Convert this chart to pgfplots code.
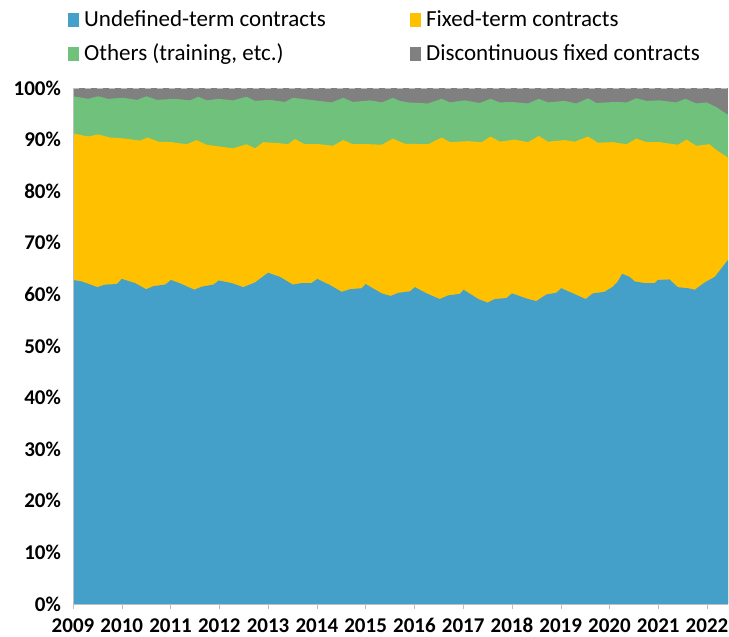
\documentclass[border=0pt]{standalone}
\usepackage{pgfplots}
\pgfplotsset{compat=1.18}
\usepackage{fontspec}
\setmainfont{Carlito}
\definecolor{cBlue}{HTML}{44A0C9}
\definecolor{cYellow}{HTML}{FFC000}
\definecolor{cGreen}{HTML}{70C17C}
\definecolor{cGrey}{HTML}{808080}
\definecolor{cAxis}{HTML}{BFBFBF}
\begin{document}
\begin{tikzpicture}
\useasboundingbox (-36.5pt,-16.5pt) rectangle (328pt,302pt);
\begin{axis}[
  at={(0,0)}, anchor=south west,
  scale only axis, width=327.5pt, height=258pt,
  xmin=2009, xmax=2022.43, ymin=0, ymax=100,
  axis x line*=bottom, axis y line*=left,
  axis line style={cAxis, -},
  xtick={2009,2010,...,2022},
  ytick={0,10,...,100},
  x tick label style={/pgf/number format/1000 sep={}, anchor=north, text height=7.6pt, text depth=0pt, yshift=-0.8pt},
  yticklabel={\pgfmathprintnumber{\tick}\%},
  y tick label style={xshift=0pt},
  /pgf/number format/assume math mode=true,
  tick label style={font=\fontsize{10.5}{12}\selectfont\bfseries},
  tick align=outside,
  major tick length=2.5pt,
  xtick style={cAxis},
  ytick style={draw=none},
  extra y ticks={100}, extra y tick labels={},
  extra y tick style={grid=major, major grid style={cAxis, dashed}},
  axis on top,
  legend columns=2,
  legend image code/.code={\fill[#1] (0pt,-3.5pt) rectangle (5.5pt,3.5pt);},
  legend style={draw=none, fill=none, at={(-0.008,1.15)}, anchor=north west,
    inner sep=0pt, font=\fontsize{11.5}{13}\selectfont, row sep=7pt,
    nodes={inner sep=0pt, anchor=west},
    /tikz/every odd column/.append style={column sep=2.5pt}},
  legend cell align=left,
]
\addlegendimage{fill=cBlue, draw=none}
\addlegendentry{\makebox[163pt][l]{Undefined-term contracts}}
\addlegendimage{fill=cYellow, draw=none}
\addlegendentry{Fixed-term contracts}
\addlegendimage{fill=cGreen, draw=none}
\addlegendentry{\makebox[163pt][l]{Others (training, etc.)}}
\addlegendimage{fill=cGrey, draw=none}
\addlegendentry{Discontinuous fixed contracts}

% Discontinuous fixed contracts (cumulative top = 100)
\addplot[fill=cGrey, draw=none, forget plot] coordinates {
(2009.00,100) (2022.43,100)} \closedcycle;

% Others (cumulative top)
\addplot[fill=cGreen, draw=none, forget plot] coordinates {
(2009.00,98.4) (2009.31,97.9) (2009.52,98.4) (2009.72,97.9) (2010.03,98.1)
(2010.31,97.7) (2010.51,98.4) (2010.72,97.7) (2011.09,97.9) (2011.40,97.6)
(2011.57,98.3) (2011.74,97.6) (2011.98,97.9) (2012.28,97.6) (2012.56,98.3)
(2012.73,97.5) (2013.04,97.7) (2013.34,97.3) (2013.51,98.1) (2013.86,97.7)
(2014.30,97.2) (2014.54,98.1) (2014.74,97.3) (2015.09,97.6) (2015.33,97.2)
(2015.56,98.1) (2015.70,97.5) (2015.87,97.2) (2016.28,97.0) (2016.56,97.9)
(2016.73,97.2) (2017.03,97.6) (2017.34,97.1) (2017.56,97.9) (2017.75,97.2)
(2017.99,97.3) (2018.33,97.0) (2018.55,97.9) (2018.74,97.2) (2019.08,97.5)
(2019.32,97.0) (2019.56,98.0) (2019.73,97.1) (2020.14,97.3) (2020.35,97.2)
(2020.55,98.0) (2020.76,97.5) (2021.03,97.6) (2021.37,97.2) (2021.56,97.9)
(2021.78,97.0) (2021.99,97.2) (2022.19,96.3) (2022.43,94.8)} \closedcycle;

% Fixed-term contracts (cumulative top)
\addplot[fill=cYellow, draw=none, forget plot] coordinates {
(2009.00,91.2) (2009.31,90.6) (2009.52,91.0) (2009.76,90.4) (2010.07,90.2)
(2010.37,89.8) (2010.53,90.4) (2010.75,89.6) (2011.02,89.5) (2011.33,89.1)
(2011.53,89.9) (2011.74,89.0) (2012.28,88.3) (2012.56,89.1) (2012.73,88.3)
(2012.90,89.5) (2013.24,89.3) (2013.41,89.1) (2013.55,90.1) (2013.75,89.1)
(2014.06,89.1) (2014.33,88.8) (2014.54,89.9) (2014.74,89.1) (2015.09,89.1)
(2015.33,89.0) (2015.56,90.2) (2015.70,89.6) (2015.80,89.2) (2016.28,89.1)
(2016.56,90.4) (2016.73,89.5) (2017.10,89.7) (2017.38,89.5) (2017.56,90.6)
(2017.75,89.6) (2018.06,90.0) (2018.33,89.5) (2018.55,90.7) (2018.74,89.6)
(2019.08,89.9) (2019.29,89.6) (2019.56,90.6) (2019.76,89.4) (2020.07,89.5)
(2020.35,89.1) (2020.55,90.2) (2020.76,89.5) (2021.03,89.5) (2021.40,89.0)
(2021.58,90.0) (2021.78,88.8) (2022.05,89.1) (2022.19,88.0) (2022.43,86.5)} \closedcycle;

% Undefined-term contracts
\addplot[fill=cBlue, draw=none, forget plot] coordinates {
(2009.00,62.8) (2009.18,62.5) (2009.50,61.4) (2009.66,61.9) (2009.90,62.0)
(2010.00,63.0) (2010.27,62.2) (2010.50,61.0) (2010.65,61.6) (2010.89,61.9)
(2011.01,62.8) (2011.23,62.0) (2011.49,60.9) (2011.64,61.5) (2011.88,61.9)
(2011.99,62.7) (2012.25,62.2) (2012.49,61.4) (2012.73,62.3) (2013.00,64.2)
(2013.24,63.4) (2013.51,61.9) (2013.69,62.2) (2013.89,62.2) (2014.01,63.0)
(2014.27,61.8) (2014.51,60.5) (2014.68,61.0) (2014.92,61.2) (2015.00,62.0)
(2015.33,60.2) (2015.51,59.7) (2015.67,60.3) (2015.91,60.6) (2016.01,61.4)
(2016.25,60.2) (2016.52,59.1) (2016.69,59.8) (2016.93,60.1) (2017.01,60.9)
(2017.31,59.1) (2017.50,58.4) (2017.65,59.1) (2017.89,59.3) (2018.00,60.2)
(2018.30,59.2) (2018.50,58.7) (2018.71,60.0) (2018.91,60.3) (2019.01,61.2)
(2019.25,60.2) (2019.51,59.1) (2019.66,60.2) (2019.90,60.5) (2020.07,61.5)
(2020.17,62.5) (2020.26,64.0) (2020.41,63.4) (2020.52,62.5) (2020.72,62.2)
(2020.93,62.2) (2020.99,62.8) (2021.23,62.9) (2021.40,61.4) (2021.61,61.2)
(2021.75,60.9) (2021.95,62.3) (2022.16,63.4) (2022.43,66.7)} \closedcycle;
\end{axis}
\end{tikzpicture}
\end{document}
